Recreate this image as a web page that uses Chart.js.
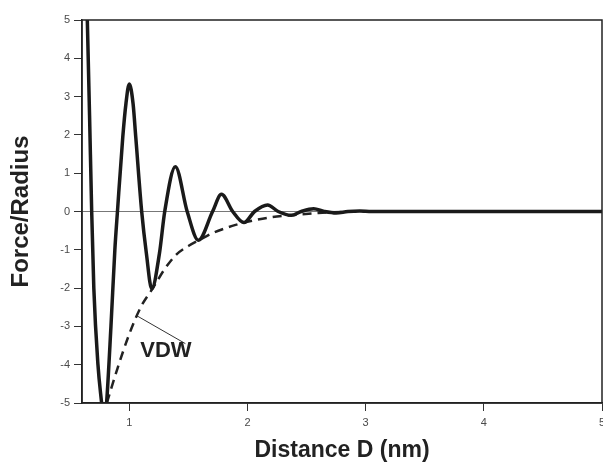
<!DOCTYPE html>
<html>
<head>
<meta charset="utf-8">
<title>Force/Radius vs Distance</title>
<script src="https://cdn.jsdelivr.net/npm/chart.js@4/dist/chart.umd.min.js"></script>
<style>
  html, body { margin: 0; padding: 0; background: #fff; }
</style>
</head>
<body>
<canvas id="forceChart" width="603" height="465"></canvas>
<script>
(function () {
    'use strict';

    const FONT = '"Liberation Sans", Arial, Helvetica, sans-serif';

    // Oscillatory solvation force
    const forceX = [0.630, 0.645, 0.664, 0.682, 0.700, 0.735, 0.766, 0.787, 0.808, 0.845,
                    0.878, 0.900, 0.945, 0.972, 1.000, 1.032, 1.055, 1.105, 1.145, 1.190,
                    1.255, 1.300, 1.390, 1.490, 1.585, 1.705, 1.780, 1.875, 1.970, 2.060,
                    2.170, 2.260, 2.370, 2.455, 2.560, 2.650, 2.750, 2.850, 2.950, 3.050, 5.000];
    const forceY = [7.00, 5.00, 2.50, 0.00, -2.00, -4.00, -5.00, -5.60, -5.00, -3.00,
                    -1.00, 0.00, 1.94, 2.82, 3.33, 2.82, 1.94, 0.00, -1.10, -2.02,
                    -1.10, 0.00, 1.17, 0.00, -0.75, 0.00, 0.45, 0.00, -0.29, 0.00,
                    0.17, 0.00, -0.10, 0.00, 0.07, 0.00, -0.04, 0.00, 0.01, 0.00, 0.00];

    // Van der Waals attraction (dashed)
    const vdwX = [0.81, 0.90, 1.00, 1.10, 1.20, 1.30, 1.40, 1.50, 1.60, 1.70,
                  1.80, 1.90, 2.00, 2.20, 2.40, 2.60, 2.80, 3.00];
    const vdwY = [-5.00, -4.10, -3.20, -2.48, -2.00, -1.50, -1.12, -0.90, -0.73, -0.57,
                  -0.45, -0.35, -0.27, -0.15, -0.09, -0.04, -0.01, 0.00];

    // Label pointer and label position (data units)
    const pointerX = [1.063, 1.475];
    const pointerY = [-2.72, -3.45];
    const vdwLabel = { text: 'VDW', x: 1.31, y: -3.63 };

    const xTicks = [1, 2, 3, 4, 5];
    const yTicks = [-5, -4, -3, -2, -1, 0, 1, 2, 3, 4, 5];

    const toPoints = (xs, ys) => xs.map((x, i) => ({ x: x, y: ys[i] }));

    // Box frame around the plot area + the VDW label
    const framePlugin = {
        id: 'frame',
        afterDatasetsDraw(chart) {
            const { ctx, chartArea: a, scales } = chart;
            ctx.save();
            ctx.strokeStyle = '#222';
            ctx.lineWidth = 1.5;
            ctx.strokeRect(a.left, a.top, a.right - a.left, a.bottom - a.top);
            ctx.font = 'bold 22px ' + FONT;
            ctx.fillStyle = '#222';
            ctx.textAlign = 'center';
            ctx.textBaseline = 'middle';
            ctx.fillText(vdwLabel.text, scales.x.getPixelForValue(vdwLabel.x), scales.y.getPixelForValue(vdwLabel.y));
            ctx.restore();
        }
    };

    new Chart(document.getElementById('forceChart').getContext('2d'), {
        type: 'line',
        data: {
            datasets: [{
                label: 'Force',
                data: toPoints(forceX, forceY),
                borderColor: '#1a1a1a',
                borderWidth: 3.5,
                cubicInterpolationMode: 'monotone',
                clip: 0
            }, {
                label: 'VDW',
                data: toPoints(vdwX, vdwY),
                borderColor: '#222',
                borderWidth: 2.5,
                borderDash: [9, 6],
                cubicInterpolationMode: 'monotone',
                clip: 0
            }, {
                label: 'pointer',
                data: toPoints(pointerX, pointerY),
                borderColor: '#333',
                borderWidth: 1,
                tension: 0
            }]
        },
        options: {
            responsive: false,
            animation: false,
            layout: { padding: { top: 20, right: 1, left: 0, bottom: 0 } },
            elements: { point: { radius: 0 } },
            plugins: { legend: { display: false }, tooltip: { enabled: false } },
            scales: {
                x: {
                    type: 'linear',
                    min: 0.6,
                    max: 5,
                    afterBuildTicks: s => { s.ticks = xTicks.map(v => ({ value: v })); },
                    afterFit: s => { s.height = 62; s.paddingRight = 0; },
                    grid: { drawOnChartArea: false, tickLength: 8, tickColor: '#333' },
                    border: { color: '#222', width: 1.5 },
                    ticks: { font: { size: 11, family: FONT }, color: '#4a4a4a', padding: 5, maxRotation: 0 },
                    title: {
                        display: true,
                        text: 'Distance D (nm)',
                        color: '#222',
                        font: { size: 23, weight: 'bold', family: FONT },
                        padding: { top: 0, bottom: 1 }
                    }
                },
                y: {
                    type: 'linear',
                    min: -5,
                    max: 5,
                    afterBuildTicks: s => { s.ticks = yTicks.map(v => ({ value: v })); },
                    afterFit: s => { s.width = 82; },
                    grid: {
                        color: c => (c.tick && c.tick.value === 0) ? '#777' : 'transparent',
                        lineWidth: 1,
                        tickLength: 8,
                        tickColor: '#333'
                    },
                    border: { color: '#222', width: 1.5 },
                    ticks: { font: { size: 11, family: FONT }, color: '#4a4a4a', padding: 4 },
                    title: {
                        display: true,
                        text: 'Force/Radius',
                        color: '#222',
                        font: { size: 24, weight: 'bold', family: FONT },
                        padding: { top: 7, bottom: 0 }
                    }
                }
            }
        },
        plugins: [framePlugin]
    });
})();
</script>
</body>
</html>
